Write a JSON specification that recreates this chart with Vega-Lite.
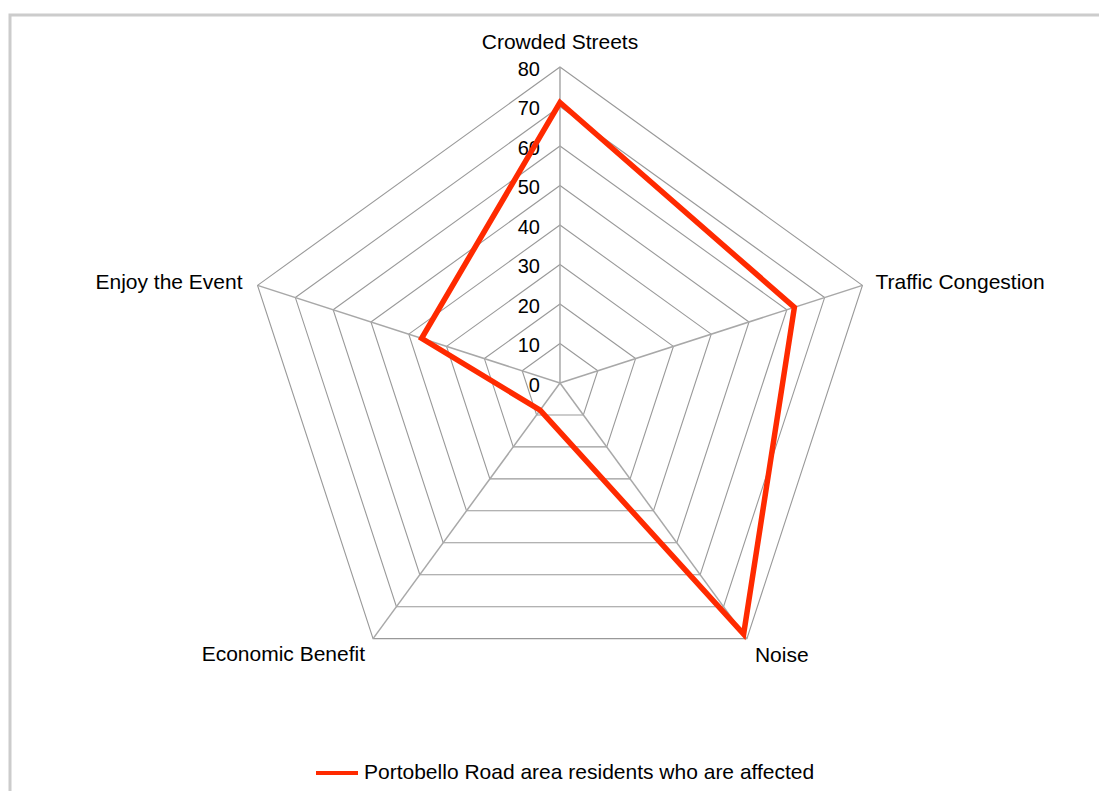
{
  "$schema": "https://vega.github.io/schema/vega-lite/v6.json",
  "width": 1089,
  "height": 776,
  "autosize": {"type": "none"},
  "padding": {"left": 10, "top": 15, "right": 0, "bottom": 0},
  "background": "white",
  "config": {
    "view": {"stroke": "#cccccc", "strokeWidth": 3, "strokeDash": [1089, 1865, 776, 10]},
    "text": {"font": "Liberation Sans", "fontSize": 21, "fill": "#000000"},
    "legend": {
      "orient": "none",
      "legendX": 304,
      "legendY": 735,
      "padding": 0,
      "symbolType": "stroke",
      "symbolSize": 1764,
      "symbolStrokeWidth": 4,
      "labelFont": "Liberation Sans",
      "labelFontSize": 21,
      "labelColor": "#000000",
      "labelLimit": 0,
      "labelOffset": 4
    }
  },
  "datasets": {
    "scores": [
      {"category": "Crowded Streets", "idx": 0, "value": 71, "series": "Portobello Road area residents who are affected"},
      {"category": "Traffic Congestion", "idx": 1, "value": 62, "series": "Portobello Road area residents who are affected"},
      {"category": "Noise", "idx": 2, "value": 78.6, "series": "Portobello Road area residents who are affected"},
      {"category": "Economic Benefit", "idx": 3, "value": 8.5, "series": "Portobello Road area residents who are affected"},
      {"category": "Enjoy the Event", "idx": 4, "value": 36.6, "series": "Portobello Road area residents who are affected"}
    ],
    "rings": [
      {"level": 10, "idx": [0, 1, 2, 3, 4]},
      {"level": 20, "idx": [0, 1, 2, 3, 4]},
      {"level": 30, "idx": [0, 1, 2, 3, 4]},
      {"level": 40, "idx": [0, 1, 2, 3, 4]},
      {"level": 50, "idx": [0, 1, 2, 3, 4]},
      {"level": 60, "idx": [0, 1, 2, 3, 4]},
      {"level": 70, "idx": [0, 1, 2, 3, 4]},
      {"level": 80, "idx": [0, 1, 2, 3, 4]}
    ],
    "ticks": [
      {"level": 0, "label": "0"},
      {"level": 10, "label": "10"},
      {"level": 20, "label": "20"},
      {"level": 30, "label": "30"},
      {"level": 40, "label": "40"},
      {"level": 50, "label": "50"},
      {"level": 60, "label": "60"},
      {"level": 70, "label": "70"},
      {"level": 80, "label": "80"}
    ]
  },
  "encoding": {
    "x": {"field": "px", "type": "quantitative", "scale": {"domain": [-138.36, 135.6], "nice": false, "zero": false}, "axis": null},
    "y": {"field": "py", "type": "quantitative", "scale": {"domain": [-103.29, 93.16], "nice": false, "zero": false}, "axis": null}
  },
  "layer": [
    {
      "data": {"name": "rings"},
      "transform": [
        {"flatten": ["idx"]},
        {"calculate": "datum.idx * 2 * PI / 5", "as": "angle"},
        {"calculate": "datum.level * sin(datum.angle)", "as": "px"},
        {"calculate": "datum.level * cos(datum.angle)", "as": "py"}
      ],
      "mark": {"type": "line", "interpolate": "linear-closed", "stroke": "#999999", "strokeWidth": 1.1},
      "encoding": {
        "detail": {"field": "level", "type": "nominal"},
        "order": {"field": "idx", "type": "quantitative"}
      }
    },
    {
      "data": {"name": "scores"},
      "transform": [
        {"calculate": "datum.idx * 2 * PI / 5", "as": "angle"},
        {"calculate": "80 * sin(datum.angle)", "as": "px"},
        {"calculate": "80 * cos(datum.angle)", "as": "py"}
      ],
      "mark": {"type": "rule", "stroke": "#a8a8a8", "strokeWidth": 1.5},
      "encoding": {
        "x": {"datum": 0, "type": "quantitative"},
        "y": {"datum": 0, "type": "quantitative"},
        "x2": {"field": "px"},
        "y2": {"field": "py"}
      }
    },
    {
      "data": {"name": "ticks"},
      "transform": [
        {"calculate": "0", "as": "px"},
        {"calculate": "datum.level", "as": "py"}
      ],
      "mark": {"type": "text", "align": "right", "baseline": "middle", "dx": -20, "dy": 3, "fontSize": 20},
      "encoding": {"text": {"field": "label", "type": "nominal"}}
    },
    {
      "data": {"name": "scores"},
      "transform": [
        {"calculate": "datum.idx * 2 * PI / 5", "as": "angle"},
        {"calculate": "datum.value * sin(datum.angle)", "as": "px"},
        {"calculate": "datum.value * cos(datum.angle)", "as": "py"}
      ],
      "mark": {"type": "line", "interpolate": "linear-closed", "strokeWidth": 5.5, "strokeJoin": "miter"},
      "encoding": {
        "order": {"field": "idx", "type": "quantitative"},
        "color": {"field": "series", "type": "nominal", "scale": {"range": ["#ff2a00"]}, "legend": {"title": null}}
      }
    },
    {
      "data": {"name": "scores"},
      "transform": [
        {"filter": "datum.idx == 0"},
        {"calculate": "datum.idx * 2 * PI / 5", "as": "angle"},
        {"calculate": "80 * sin(datum.angle)", "as": "px"},
        {"calculate": "80 * cos(datum.angle)", "as": "py"}
      ],
      "mark": {"type": "text", "align": "center", "baseline": "middle", "dy": -24},
      "encoding": {"text": {"field": "category", "type": "nominal"}}
    },
    {
      "data": {"name": "scores"},
      "transform": [
        {"filter": "datum.idx == 1"},
        {"calculate": "datum.idx * 2 * PI / 5", "as": "angle"},
        {"calculate": "80 * sin(datum.angle)", "as": "px"},
        {"calculate": "80 * cos(datum.angle)", "as": "py"}
      ],
      "mark": {"type": "text", "align": "left", "baseline": "middle", "dx": 13, "dy": -2},
      "encoding": {"text": {"field": "category", "type": "nominal"}}
    },
    {
      "data": {"name": "scores"},
      "transform": [
        {"filter": "datum.idx == 2"},
        {"calculate": "datum.idx * 2 * PI / 5", "as": "angle"},
        {"calculate": "80 * sin(datum.angle)", "as": "px"},
        {"calculate": "80 * cos(datum.angle)", "as": "py"}
      ],
      "mark": {"type": "text", "align": "left", "baseline": "middle", "dx": 8, "dy": 17},
      "encoding": {"text": {"field": "category", "type": "nominal"}}
    },
    {
      "data": {"name": "scores"},
      "transform": [
        {"filter": "datum.idx == 3"},
        {"calculate": "datum.idx * 2 * PI / 5", "as": "angle"},
        {"calculate": "80 * sin(datum.angle)", "as": "px"},
        {"calculate": "80 * cos(datum.angle)", "as": "py"}
      ],
      "mark": {"type": "text", "align": "right", "baseline": "middle", "dx": -8, "dy": 16},
      "encoding": {"text": {"field": "category", "type": "nominal"}}
    },
    {
      "data": {"name": "scores"},
      "transform": [
        {"filter": "datum.idx == 4"},
        {"calculate": "datum.idx * 2 * PI / 5", "as": "angle"},
        {"calculate": "80 * sin(datum.angle)", "as": "px"},
        {"calculate": "80 * cos(datum.angle)", "as": "py"}
      ],
      "mark": {"type": "text", "align": "right", "baseline": "middle", "dx": -15, "dy": -2},
      "encoding": {"text": {"field": "category", "type": "nominal"}}
    }
  ]
}
